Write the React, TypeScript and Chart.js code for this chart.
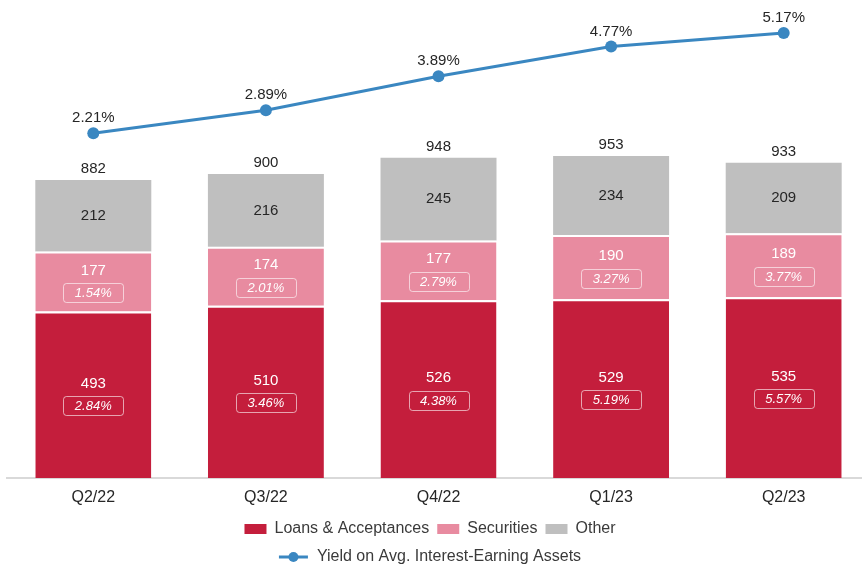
import React, { useEffect, useRef } from "react";
import { Chart, registerables } from "chart.js";

Chart.register(...registerables);

const categories = ["Q2/22", "Q3/22", "Q4/22", "Q1/23", "Q2/23"];
const loans = [493, 510, 526, 529, 535];
const securities = [177, 174, 177, 190, 189];
const other = [212, 216, 245, 234, 209];
const totals = [882, 900, 948, 953, 933];
const loansYield = ["2.84%", "3.46%", "4.38%", "5.19%", "5.57%"];
const securitiesYield = ["1.54%", "2.01%", "2.79%", "3.27%", "3.77%"];
const assetYield = [2.21, 2.89, 3.89, 4.77, 5.17];

const seriesNames = ["Loans & Acceptances", "Securities", "Other"];
const lineName = "Yield on Avg. Interest-Earning Assets";

const RED = "#C41E3C";
const PINK = "#E88BA0";
const GREY = "#BFBFBF";
const BLUE = "#3A87C1";
const FONT = '"Liberation Sans", Arial, sans-serif';
const DARK = "#262626";

function drawBox(ctx: CanvasRenderingContext2D, x: number, y: number, text: string) {
  const w = 60, h = 19, r = 3;
  ctx.save();
  ctx.strokeStyle = "rgba(255,255,255,0.6)";
  ctx.lineWidth = 1;
  ctx.beginPath();
  ctx.roundRect(Math.round(x - w / 2) + 0.5, Math.round(y - h / 2) + 0.5, w, h, r);
  ctx.stroke();
  ctx.fillStyle = "#ffffff";
  ctx.font = "italic 13px " + FONT;
  ctx.textAlign = "center";
  ctx.textBaseline = "middle";
  ctx.fillText(text, x, y + 1);
  ctx.restore();
}

const labelPlugin = {
  id: "valueLabels",
  afterDatasetsDraw(chart: any) {
    const ctx: CanvasRenderingContext2D = chart.ctx;
    ctx.save();
    ctx.textAlign = "center";
    ctx.textBaseline = "middle";
    ctx.font = "15px " + FONT;
    const mL = chart.getDatasetMeta(0);
    const mS = chart.getDatasetMeta(1);
    const mO = chart.getDatasetMeta(2);
    const mY = chart.getDatasetMeta(3);
    mL.data.forEach((el: any, i: number) => {
      const c = (el.y + el.base) / 2;
      ctx.fillStyle = "#ffffff";
      ctx.font = "15px " + FONT;
      ctx.fillText(String(loans[i]), el.x, c - 11);
      drawBox(ctx, el.x, c + 11, loansYield[i]);
    });
    mS.data.forEach((el: any, i: number) => {
      const c = (el.y + el.base) / 2;
      ctx.fillStyle = "#ffffff";
      ctx.font = "15px " + FONT;
      ctx.fillText(String(securities[i]), el.x, c - 11);
      drawBox(ctx, el.x, c + 11, securitiesYield[i]);
    });
    mO.data.forEach((el: any, i: number) => {
      const c = (el.y + el.base) / 2;
      ctx.fillStyle = DARK;
      ctx.font = "15px " + FONT;
      ctx.fillText(String(other[i]), el.x, c);
      ctx.fillText(String(totals[i]), el.x, el.y - 11);
    });
    mY.data.forEach((el: any, i: number) => {
      ctx.fillStyle = DARK;
      ctx.font = "15px " + FONT;
      ctx.fillText(assetYield[i].toFixed(2) + "%", el.x, el.y - 15);
    });
    ctx.restore();
  },
  afterDraw(chart: any) {
    const ctx: CanvasRenderingContext2D = chart.ctx;
    ctx.save();
    ctx.font = "16px " + FONT;
    ctx.textBaseline = "middle";
    ctx.textAlign = "left";
    const center = 430;
    const colors = [RED, PINK, GREY];
    const boxW = 22, boxH = 10, gap = 8, sep = 8;
    const widths = seriesNames.map((n) => boxW + gap + ctx.measureText(n).width);
    const total = widths.reduce((a, b) => a + b, 0) + sep * (widths.length - 1);
    let x = center - total / 2;
    const y1 = 529;
    seriesNames.forEach((n, i) => {
      ctx.fillStyle = colors[i];
      ctx.fillRect(x, y1 - boxH / 2, boxW, boxH);
      ctx.fillStyle = "#3a3a3a";
      ctx.fillText(n, x + boxW + gap, y1);
      x += widths[i] + sep;
    });
    const y2 = 557;
    const lw = 29;
    const tw = ctx.measureText(lineName).width;
    const t2 = lw + 9 + tw;
    let x2 = center - t2 / 2;
    ctx.strokeStyle = BLUE;
    ctx.lineWidth = 3;
    ctx.beginPath();
    ctx.moveTo(x2, y2);
    ctx.lineTo(x2 + lw, y2);
    ctx.stroke();
    ctx.fillStyle = BLUE;
    ctx.beginPath();
    ctx.arc(x2 + lw / 2, y2, 5, 0, Math.PI * 2);
    ctx.fill();
    ctx.fillStyle = "#3a3a3a";
    ctx.fillText(lineName, x2 + lw + 9, y2);
    ctx.restore();
  },
};

export default function App() {
  const ref = useRef<HTMLCanvasElement | null>(null);
  useEffect(() => {
    if (!ref.current) return;
    const segBorder = { top: 2, bottom: 0, left: 0, right: 0 };
    const chart = new Chart(ref.current, {
      type: "bar",
      data: {
        labels: categories,
        datasets: [
          { label: seriesNames[0], data: loans, backgroundColor: RED, borderColor: "#ffffff", borderWidth: segBorder, borderSkipped: false, stack: "s", yAxisID: "y", order: 2 } as any,
          { label: seriesNames[1], data: securities, backgroundColor: PINK, borderColor: "#ffffff", borderWidth: segBorder, borderSkipped: false, stack: "s", yAxisID: "y", order: 2 } as any,
          { label: seriesNames[2], data: other, backgroundColor: GREY, borderWidth: 0, stack: "s", yAxisID: "y", order: 2 } as any,
          {
            type: "line",
            label: lineName,
            data: assetYield,
            borderColor: BLUE,
            backgroundColor: BLUE,
            borderWidth: 3,
            pointRadius: 6,
            pointBackgroundColor: BLUE,
            pointBorderWidth: 0,
            yAxisID: "y2",
            order: 1,
            tension: 0,
          } as any,
        ],
      },
      options: {
        animation: false,
        responsive: false,
        maintainAspectRatio: false,
        layout: { padding: { left: 7, right: 0, top: 10, bottom: 59 } },
        plugins: { legend: { display: false }, tooltip: { enabled: false } },
        datasets: { bar: { categoryPercentage: 1, barPercentage: 0.672 } },
        scales: {
          x: {
            stacked: true,
            grid: { display: false, drawTicks: false },
            border: { display: true, color: "#D9D9D9", width: 2 },
            ticks: { color: DARK, font: { family: FONT, size: 16 }, padding: 10 },
            afterFit: (s: any) => { s.height = 30; },
          },
          y: { stacked: true, display: false, min: 0, max: 1385 },
          y2: { display: false, min: -7.96, max: 5.847 },
        },
      } as any,
      plugins: [labelPlugin],
    });
    return () => chart.destroy();
  }, []);
  return (
    <div style={{ position: "fixed", left: 0, top: 0, width: 862, height: 567, overflow: "hidden", background: "#fff" }}>
      <canvas ref={ref} width={876} height={567} style={{ position: "absolute", left: 0, top: 0, width: 876, height: 567 }} />
    </div>
  );
}
